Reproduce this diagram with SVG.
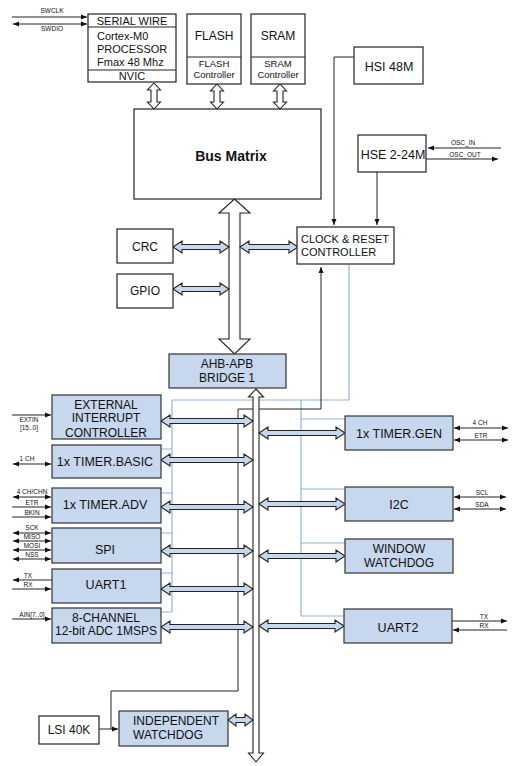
<svg xmlns="http://www.w3.org/2000/svg" width="514" height="766" viewBox="0 0 514 766">
<style>
.bx{fill:#fff;stroke:#222;stroke-width:1.2}
.bl{fill:#c6d7ee;stroke:#333;stroke-width:1.2}
.ln{fill:none;stroke:#222;stroke-width:1}
.lb{fill:none;stroke:#95b3d7;stroke-width:1.2}
.ba{fill:#c6d7ee;stroke:#222;stroke-width:1.1}
.wa{fill:#fff;stroke:#222;stroke-width:1.1}
text{font-family:"Liberation Sans",Arial,sans-serif;fill:#111}
.t11{font-size:11px}
.t12{font-size:12px}
.t13{font-size:12.5px}
.t9{font-size:9.5px}
.tp{font-size:6.5px;text-anchor:middle}
.c{text-anchor:middle}
</style>
<defs>
<marker id="ah" markerUnits="userSpaceOnUse" markerWidth="6" markerHeight="6" refX="6" refY="3" orient="auto-start-reverse">
<path d="M0,0.5 L6,3 L0,5.5 Z" fill="#111"/>
</marker>
</defs>

<g id="connectors">
<path class="ln" d="M354,57 H334 V225" marker-end="url(#ah)"/>
<path class="ln" d="M377,172 V225" marker-end="url(#ah)"/>
<path class="ln" d="M501,148 H428" marker-end="url(#ah)"/>
<path class="ln" d="M426,159 H498" marker-end="url(#ah)"/>
<path class="ln" d="M12,17 H87" marker-end="url(#ah)"/>
<path class="ln" d="M13,24 H87" marker-start="url(#ah)" marker-end="url(#ah)"/>
<path class="lb" d="M349,265 V400 H172 V612 M161,449 H172 M161,493 H172 M161,533 H172 M161,573 H172 M161,612 H172"/>
<path class="lb" d="M301,400 V616 M301,419 H345 M301,489 H345 M301,543 H345 M301,616 H344"/>
<path class="ln" d="M111,729 V691 H238 V409 H321 V267" marker-end="url(#ah)"/>
<path class="ln" d="M99,729 H118" marker-end="url(#ah)"/>
<path class="ln" d="M12,415 H51" marker-end="url(#ah)"/>
<path class="ln" d="M13,464 H51" marker-start="url(#ah)" marker-end="url(#ah)"/>
<path class="ln" d="M13,497 H51" marker-start="url(#ah)" marker-end="url(#ah)"/>
<path class="ln" d="M12,507 H51" marker-end="url(#ah)"/>
<path class="ln" d="M12,517 H51" marker-end="url(#ah)"/>
<path class="ln" d="M13,533 H51" marker-start="url(#ah)" marker-end="url(#ah)"/>
<path class="ln" d="M13,541 H51" marker-start="url(#ah)" marker-end="url(#ah)"/>
<path class="ln" d="M13,550 H51" marker-start="url(#ah)" marker-end="url(#ah)"/>
<path class="ln" d="M13,559 H51" marker-start="url(#ah)" marker-end="url(#ah)"/>
<path class="ln" d="M52,580 H13" marker-end="url(#ah)"/>
<path class="ln" d="M12,589 H51" marker-end="url(#ah)"/>
<path class="ln" d="M12,619 H51" marker-end="url(#ah)"/>
<path class="ln" d="M454,428 H508" marker-start="url(#ah)" marker-end="url(#ah)"/>
<path class="ln" d="M454,440 H508" marker-start="url(#ah)" marker-end="url(#ah)"/>
<path class="ln" d="M454,497 H506" marker-start="url(#ah)" marker-end="url(#ah)"/>
<path class="ln" d="M454,509 H506" marker-start="url(#ah)" marker-end="url(#ah)"/>
<path class="ln" d="M452,621 H507" marker-end="url(#ah)"/>
<path class="ln" d="M507,630 H453" marker-end="url(#ah)"/>
<!-- top small bus arrows -->
<path class="wa" d="M154,83 L160.5,90 L157,90 L157,102 L160.5,102 L154,109 L147.5,102 L151,102 L151,90 L147.5,90 Z"/>
<path class="wa" d="M217,84 L223.5,91 L220,91 L220,102 L223.5,102 L217,109 L210.5,102 L214,102 L214,91 L210.5,91 Z"/>
<path class="wa" d="M280,84 L286.5,91 L283,91 L283,102 L286.5,102 L280,109 L273.5,102 L277,102 L277,91 L273.5,91 Z"/>
<!-- AHB big arrow -->
<path class="wa" d="M234.5,199 L250,213 L240,213 L240,339 L250,339 L234.5,354 L219,339 L229,339 L229,213 L219,213 Z"/>
<!-- APB shaft -->
<path class="wa" d="M256,389 L263.5,397 L259,397 L259,753 L263.5,753 L256,762 L248.5,753 L253,753 L253,397 L248.5,397 Z"/>
<!-- AHB side arrows -->
<path class="ba" d="M173,247 L182,241 L182,244.5 L220,244.5 L220,241 L229,247 L220,253 L220,249.5 L182,249.5 L182,253 Z"/>
<path class="ba" d="M173,289 L182,283 L182,286.5 L220,286.5 L220,283 L229,289 L220,295 L220,291.5 L182,291.5 L182,295 Z"/>
<path class="ba" d="M240,247 L249,241 L249,244.5 L289,244.5 L289,241 L298,247 L289,253 L289,249.5 L249,249.5 L249,253 Z"/>
<!-- APB left arrows -->
<path class="ba" d="M161,421 L170,415 L170,418.5 L244,418.5 L244,415 L253,421 L244,427 L244,423.5 L170,423.5 L170,427 Z"/>
<path class="ba" d="M161,460 L170,454 L170,457.5 L244,457.5 L244,454 L253,460 L244,466 L244,462.5 L170,462.5 L170,466 Z"/>
<path class="ba" d="M161,507 L170,501 L170,504.5 L244,504.5 L244,501 L253,507 L244,513 L244,509.5 L170,509.5 L170,513 Z"/>
<path class="ba" d="M161,551 L170,545 L170,548.5 L244,548.5 L244,545 L253,551 L244,557 L244,553.5 L170,553.5 L170,557 Z"/>
<path class="ba" d="M161,589 L170,583 L170,586.5 L244,586.5 L244,583 L253,589 L244,595 L244,591.5 L170,591.5 L170,595 Z"/>
<path class="ba" d="M161,627 L170,621 L170,624.5 L244,624.5 L244,621 L253,627 L244,633 L244,629.5 L170,629.5 L170,633 Z"/>
<path class="ba" d="M228,720 L236,714 L236,717.5 L245,717.5 L245,714 L253,720 L245,726 L245,722.5 L236,722.5 L236,726 Z"/>
<!-- APB right arrows -->
<path class="ba" d="M259,433 L268,427 L268,430.5 L336,430.5 L336,427 L345,433 L336,439 L336,435.5 L268,435.5 L268,439 Z"/>
<path class="ba" d="M259,504 L268,498 L268,501.5 L336,501.5 L336,498 L345,504 L336,510 L336,506.5 L268,506.5 L268,510 Z"/>
<path class="ba" d="M259,556 L268,550 L268,553.5 L336,553.5 L336,550 L345,556 L336,562 L336,558.5 L268,558.5 L268,562 Z"/>
<path class="ba" d="M259,626 L268,620 L268,623.5 L335,623.5 L335,620 L344,626 L335,632 L335,628.5 L268,628.5 L268,632 Z"/>
</g>

<g id="pin-labels">
<text class="tp" x="52" y="13">SWCLK</text>
<text class="tp" x="52" y="31">SWDIO</text>
<text class="tp" x="463" y="145">OSC_IN</text>
<text class="tp" x="465" y="157">OSC_OUT</text>
<text class="tp" x="29" y="422">EXTIN</text>
<text class="tp" x="29" y="430">[15..0]</text>
<text class="tp" x="27" y="461">1 CH</text>
<text class="tp" x="32" y="494">4 CH/CHN</text>
<text class="tp" x="32" y="505">ETR</text>
<text class="tp" x="32" y="515">BKIN</text>
<text class="tp" x="32" y="530">SCK</text>
<text class="tp" x="32" y="539">MISO</text>
<text class="tp" x="32" y="548">MOSI</text>
<text class="tp" x="32" y="557">NSS</text>
<text class="tp" x="28" y="578">TX</text>
<text class="tp" x="28" y="587">RX</text>
<text class="tp" x="32" y="617">AIN[7..0]</text>
<text class="tp" x="480" y="425">4 CH</text>
<text class="tp" x="481" y="438">ETR</text>
<text class="tp" x="482" y="495">SCL</text>
<text class="tp" x="482" y="507">SDA</text>
<text class="tp" x="484" y="619">TX</text>
<text class="tp" x="484" y="628">RX</text>
</g>

<g id="cpu">
<rect class="bx" x="88" y="14" width="88" height="68"/>
<path class="ln" d="M88,27 H176 M88,70 H176"/>
<text class="t11 c" x="132" y="25">SERIAL WIRE</text>
<text class="t11" x="97" y="40">Cortex-M0</text>
<text class="t11" x="97" y="53">PROCESSOR</text>
<text class="t11" x="97" y="66">Fmax 48 Mhz</text>
<text class="t11 c" x="132" y="80">NVIC</text>
</g>
<g id="flash">
<rect class="bx" x="187" y="14" width="54" height="70"/>
<path class="ln" d="M187,57 H241"/>
<text class="t12 c" x="214" y="40">FLASH</text>
<text class="t9 c" x="214" y="67">FLASH</text>
<text class="t9 c" x="214" y="78">Controller</text>
</g>
<g id="sram">
<rect class="bx" x="251" y="14" width="54" height="70"/>
<path class="ln" d="M251,57 H305"/>
<text class="t12 c" x="278" y="40">SRAM</text>
<text class="t9 c" x="278" y="67">SRAM</text>
<text class="t9 c" x="278" y="78">Controller</text>
</g>
<g id="busmatrix">
<rect class="bx" x="134" y="109" width="187" height="90"/>
<text class="c" x="231" y="161" style="font-size:14px;font-weight:bold">Bus Matrix</text>
</g>
<g id="hsi">
<rect class="bx" x="354" y="47" width="69" height="37"/>
<text class="t13 c" x="389" y="71">HSI 48M</text>
</g>
<g id="hse">
<rect class="bx" x="358" y="135" width="68" height="37"/>
<text class="t13 c" x="393" y="159">HSE 2-24M</text>
</g>
<g id="crc">
<rect class="bx" x="117" y="229" width="56" height="34"/>
<text class="t12 c" x="145" y="251">CRC</text>
</g>
<g id="gpio">
<rect class="bx" x="117" y="274" width="56" height="34"/>
<text class="t12 c" x="145" y="295">GPIO</text>
</g>
<g id="rcc">
<rect class="bx" x="297" y="227" width="97" height="37"/>
<text class="t11" x="301" y="243">CLOCK &amp; RESET</text>
<text class="t11" x="301" y="256">CONTROLLER</text>
</g>
<g id="bridge">
<rect class="bl" x="169" y="354" width="117" height="34"/>
<text class="t12 c" x="227" y="368">AHB-APB</text>
<text class="t12 c" x="227" y="382">BRIDGE 1</text>
</g>
<g id="exti">
<rect class="bl" x="52" y="395" width="109" height="44"/>
<text class="t12 c" x="106" y="409">EXTERNAL</text>
<text class="t12 c" x="106" y="422">INTERRUPT</text>
<text class="t12 c" x="106" y="437">CONTROLLER</text>
</g>
<g id="timbasic">
<rect class="bl" x="52" y="445" width="109" height="33"/>
<text class="t13 c" x="105" y="466">1x TIMER.BASIC</text>
</g>
<g id="timadv">
<rect class="bl" x="52" y="488" width="109" height="35"/>
<text class="t13 c" x="105" y="509">1x TIMER.ADV</text>
</g>
<g id="spi">
<rect class="bl" x="52" y="528" width="109" height="35"/>
<text class="t13 c" x="105" y="554">SPI</text>
</g>
<g id="uart1">
<rect class="bl" x="52" y="569" width="109" height="34"/>
<text class="t13 c" x="106" y="589">UART1</text>
</g>
<g id="adc">
<rect class="bl" x="52" y="608" width="109" height="35"/>
<text class="t12 c" x="106" y="622">8-CHANNEL</text>
<text class="t12 c" x="106" y="635">12-bit ADC 1MSPS</text>
</g>
<g id="timgen">
<rect class="bl" x="345" y="416" width="108" height="34"/>
<text class="t13 c" x="399" y="438">1x TIMER.GEN</text>
</g>
<g id="i2c">
<rect class="bl" x="345" y="487" width="108" height="34"/>
<text class="t13 c" x="399" y="509">I2C</text>
</g>
<g id="wwdg">
<rect class="bl" x="345" y="539" width="108" height="34"/>
<text class="t12 c" x="399" y="553">WINDOW</text>
<text class="t12 c" x="399" y="567">WATCHDOG</text>
</g>
<g id="uart2">
<rect class="bl" x="344" y="609" width="108" height="34"/>
<text class="t13 c" x="398" y="632">UART2</text>
</g>
<g id="lsi">
<rect class="bx" x="39" y="716" width="60" height="28"/>
<text class="t12 c" x="69" y="734">LSI 40K</text>
</g>
<g id="iwdg">
<rect class="bl" x="119" y="711" width="109" height="35"/>
<text class="t12" x="133" y="725">INDEPENDENT</text>
<text class="t12" x="133" y="739">WATCHDOG</text>
</g>
</svg>
